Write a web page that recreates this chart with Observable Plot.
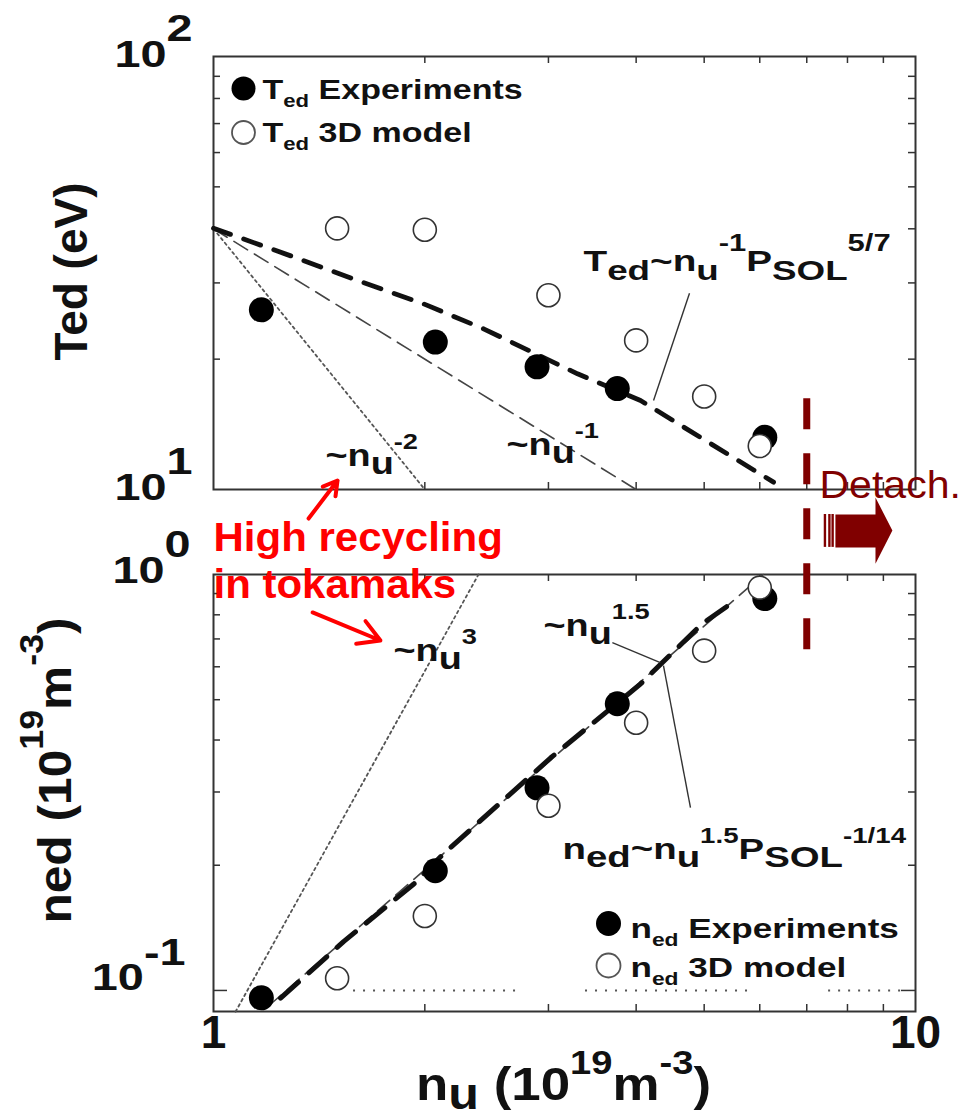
<!DOCTYPE html>
<html>
<head>
<meta charset="utf-8">
<script src="https://cdn.jsdelivr.net/npm/d3@7"></script>
<script src="https://cdn.jsdelivr.net/npm/@observablehq/plot@0.6"></script>
<style>
  body { margin: 0; background: #fff; }
  #chart { position: relative; width: 962px; height: 1117px; overflow: hidden; background: #fff; }
  #chart svg { position: absolute; left: 0; top: 0; }
</style>
</head>
<body>
<div id="chart"></div>
<script>
// ---------------- data ----------------
const xTicks = [2, 3, 4, 5, 6, 7, 8, 9];
const xDecades = [1, 10];
const xDecadeLabels = ["1", "10"];
const tedTicks = [20, 30, 40, 50, 60, 70, 80, 90];
const tedDecades = [10, 100];
const tedDecadeLabels = ["10^{1}", "10^{2}"];
const nedTicks = [0.2, 0.3, 0.4, 0.5, 0.6, 0.7, 0.8, 0.9];
const nedDecades = [0.1, 1];
const nedDecadeLabels = ["10^{-1}", "10^{0}"];

// experiments (filled) and 3D model (open)
const expNu = [1.17, 2.07, 2.89, 3.76, 6.1];
const tedExp = [26.0, 21.9, 19.2, 17.1, 13.2];
const nedExp = [0.096, 0.194, 0.307, 0.489, 0.875];
const modelNu = [1.5, 2, 3, 4, 5, 6];
const tedModel = [40.1, 39.8, 28.1, 22.1, 16.4, 12.6];
const nedModel = [0.107, 0.151, 0.278, 0.44, 0.656, 0.93];

// scaling curves
const tedScalingNu = [1, 1.317, 1.62, 1.985, 2.425, 3.3, 4.058, 4.973, 6.277];
const tedScalingT = [40.1, 34.2, 30.2, 26.9, 23.5, 18.5, 16.05, 13.1, 10.4];
const tedInv1Nu = [1, 4];
const tedInv1T = [40, 10];
const tedInv2Nu = [1, 2];
const tedInv2T = [40, 10];
const nedScalingNu = [1.246, 1.532, 1.927, 2.126, 3.02, 4.06, 4.97, 5.54];
const nedScalingN = [0.0958, 0.131, 0.18, 0.213, 0.362, 0.546, 0.762, 0.866];
const ned15Nu = [1.2, 6.07];
const ned15N = [0.092, 1.0];
const ned3Nu = [1.075, 2.385];
const ned3N = [0.0889, 1.0];
const nedGuideNu1 = [1.583, 3.388, 7.52];
const nedGuideNu2 = [2.737, 5.86, 9.68];
const nedGuideLevel = 0.1;

// annotation geometry (data units)
const detachNu = 7;
const detachT = [16.2, 4.18];
const leadersTop = [{x1: 4.765, y1: 28.4, x2: 4.235, y2: 16.05}];
const leadersBot = [
  {x1: 3.70, y1: 0.686, x2: 4.33, y2: 0.614},
  {x1: 4.375, y1: 0.604, x2: 4.78, y2: 0.275}
];
const redArrows = [
  {x1: 1.366, y1: 8.57, x2: 1.502, y2: 10.49},
  {x1: 1.384, y1: 5.2, x2: 1.729, y2: 4.48}
];
const detachArrowNu = [7.69, 8.77, 8.77, 9.27, 8.77, 8.77, 7.69];
const detachArrowT = [8.756, 8.756, 9.58, 8.04, 6.74, 7.35, 7.35];
const detachBarsNu = [7.43, 7.54, 7.62];
const detachBarsT = [8.756, 7.35];

// ---------------- layout / style ----------------
const W = 962, H = 1117, ML = 213, MR = 47;
const TOP = {mt: 56, mb: H - 489};
const BOT = {mt: 574, mb: H - 1011};
const IW = W - ML - MR;
const IH_TOP = H - TOP.mt - TOP.mb;
const IH_BOT = H - BOT.mt - BOT.mb;
const INK = "#111";
const FRAME = "#333";
const MAROON = "#800000";
const RED = "#ff0000";
const FONT = "'Liberation Sans', Arial, Helvetica, sans-serif";

const textCfg = new Map();

function txt(raw, o) {
  textCfg.set(raw, o);
  const fs = o.fs;
  let dx, dy;
  if (o.rotate) { dx = o.x - ML - 0.32 * fs; dy = o.y - o.mt; }
  else { dx = o.x - ML; dy = o.y - o.mt - 0.32 * fs; }
  return Plot.text([raw], {
    frameAnchor: "top-left", dx, dy, text: d => d,
    textAnchor: o.anchor || "start", lineAnchor: "middle",
    fontSize: fs, fontWeight: o.weight || "bold", fontFamily: FONT,
    fill: o.fill || INK, rotate: o.rotate || 0
  });
}

function ticks(yTicks, ih, majors) {
  return [
    Plot.tickX(xTicks, {x: d => d, insetTop: ih - 7, stroke: FRAME, strokeWidth: 1.5}),
    Plot.tickX(xTicks, {x: d => d, insetBottom: ih - 7, stroke: FRAME, strokeWidth: 1.5}),
    Plot.tickY(yTicks, {y: d => d, insetRight: IW - 7, stroke: FRAME, strokeWidth: 1.5}),
    Plot.tickY(yTicks, {y: d => d, insetLeft: IW - 7, stroke: FRAME, strokeWidth: 1.5}),
    Plot.tickY(majors, {y: d => d, insetRight: IW - 14, stroke: FRAME, strokeWidth: 1.5}),
    Plot.tickY(majors, {y: d => d, insetLeft: IW - 14, stroke: FRAME, strokeWidth: 1.5})
  ];
}

const annoStyle = {sx: 1.22, subScale: 1.0, subShift: 0.27, supScale: 0.72, supShift: 0.52};
const legendStyle = {sx: 1.3, subScale: 0.65, subShift: 0.3};
const tickLabelStyle = {sx: 1.3, supScale: 1.0, supShift: 0.72};
const TL = 36; // tick label font size

// ---------------- bottom panel ----------------
textCfg.set("10^{-1}", tickLabelStyle);
textCfg.set("10^{0}", tickLabelStyle);
const bottomPlot = Plot.plot({
  width: W, height: H,
  marginLeft: ML, marginRight: MR, marginTop: BOT.mt, marginBottom: BOT.mb,
  x: {type: "log", domain: [1, 10], axis: null},
  y: {type: "log", domain: [0.089, 1], axis: null},
  style: {fontFamily: FONT, background: "transparent", overflow: "visible"},
  marks: [
    Plot.ruleY(nedGuideNu1, {x1: d => d, x2: (d, i) => nedGuideNu2[i], y: nedGuideLevel,
      stroke: "#555", strokeWidth: 2, strokeDasharray: "2,8"}),
    ...ticks(nedTicks, IH_BOT, [0.1]),
    Plot.frame({stroke: FRAME, strokeWidth: 2}),
    Plot.line(ned3Nu, {x: ned3Nu, y: ned3N, stroke: "#555", strokeWidth: 1.8, strokeDasharray: "2.5,3.5"}),
    Plot.line(ned15Nu, {x: ned15Nu, y: ned15N, stroke: "#444", strokeWidth: 1.6, strokeDasharray: "16,8"}),
    Plot.line(nedScalingNu, {x: nedScalingNu, y: nedScalingN, stroke: "#111", strokeWidth: 5, strokeDasharray: "24,14"}),
    Plot.link(leadersBot, {x1: "x1", y1: "y1", x2: "x2", y2: "y2", stroke: "#333", strokeWidth: 1.4}),
    Plot.dot(expNu, {x: expNu, y: nedExp, r: 12.5, fill: "#000"}),
    Plot.dot(modelNu, {x: modelNu, y: nedModel, r: 11.5, fill: "#fff", stroke: "#333", strokeWidth: 1.6}),
    // tick labels
    Plot.text([nedDecades[0]], {y: d => d, text: () => nedDecadeLabels[0], frameAnchor: "left", textAnchor: "end",
      dx: -28, dy: 0 - 0.32 * TL, fontSize: TL, fontWeight: "bold", fill: INK}),
    Plot.text([nedDecades[1]], {y: d => d, text: () => nedDecadeLabels[1], frameAnchor: "left", textAnchor: "end",
      dx: -23, dy: 8 - 0.32 * TL, fontSize: TL, fontWeight: "bold", fill: INK}),
    Plot.text(xDecades, {x: d => d, text: (d, i) => xDecadeLabels[i], frameAnchor: "bottom", textAnchor: "middle",
      dy: 51 - 0.32 * 46, fontSize: 46, fontWeight: "bold", fill: INK}),
    // legend
    Plot.dot([0], {frameAnchor: "top-left", dx: 608 - ML, dy: 923 - BOT.mt, r: 12.5, fill: "#000"}),
    Plot.dot([0], {frameAnchor: "top-left", dx: 608 - ML, dy: 965 - BOT.mt, r: 12, fill: "#fff", stroke: "#555", strokeWidth: 1.8}),
    txt("n_{ed} Experiments", {x: 630, y: 937, mt: BOT.mt, fs: 27, ...legendStyle}),
    txt("n_{ed} 3D model", {x: 630, y: 976, mt: BOT.mt, fs: 27, ...legendStyle}),
    // annotations
    txt("~n_{u}^{3}", {x: 393, y: 660, mt: BOT.mt, fs: 31, ...annoStyle}),
    txt("~n_{u}^{1.5}", {x: 543, y: 635, mt: BOT.mt, fs: 31, ...annoStyle}),
    txt("n_{ed}~n_{u}^{1.5}P_{SOL}^{-1/14}", {x: 562, y: 858, mt: BOT.mt, fs: 30, ...annoStyle, sx: 1.28}),
    // axis titles
    txt("n_{u} (10^{19}m^{-3})", {x: 563, y: 1099, mt: BOT.mt, fs: 46, anchor: "middle", sx: 1.15,
      subScale: 0.95, subShift: 0.2, supScale: 0.72, supShift: 0.55}),
    txt("ned (10^{19}m^{-3})", {x: 70, y: 770, mt: BOT.mt, fs: 46, anchor: "middle", rotate: -90, sx: 1.08,
      supScale: 0.72, supShift: 0.6})
  ]
});

// ---------------- top panel ----------------
textCfg.set("10^{1}", tickLabelStyle);
textCfg.set("10^{2}", tickLabelStyle);
const topPlot = Plot.plot({
  width: W, height: H,
  marginLeft: ML, marginRight: MR, marginTop: TOP.mt, marginBottom: TOP.mb,
  x: {type: "log", domain: [1, 10], axis: null},
  y: {type: "log", domain: [10, 100], axis: null},
  style: {fontFamily: FONT, background: "transparent", overflow: "visible"},
  marks: [
    ...ticks(tedTicks, IH_TOP, []),
    Plot.frame({stroke: FRAME, strokeWidth: 2}),
    Plot.line(tedInv2Nu, {x: tedInv2Nu, y: tedInv2T, stroke: "#555", strokeWidth: 1.8, strokeDasharray: "2.5,3.5"}),
    Plot.line(tedInv1Nu, {x: tedInv1Nu, y: tedInv1T, stroke: "#444", strokeWidth: 1.6, strokeDasharray: "16,8"}),
    Plot.line(tedScalingNu, {x: tedScalingNu, y: tedScalingT, stroke: "#111", strokeWidth: 4.8, strokeDasharray: "18,14"}),
    Plot.link(leadersTop, {x1: "x1", y1: "y1", x2: "x2", y2: "y2", stroke: "#333", strokeWidth: 1.4}),
    Plot.dot(expNu, {x: expNu, y: tedExp, r: 12.5, fill: "#000"}),
    Plot.dot(modelNu, {x: modelNu, y: tedModel, r: 11.5, fill: "#fff", stroke: "#333", strokeWidth: 1.6}),
    // tick labels
    Plot.text(tedDecades, {y: d => d, text: (d, i) => tedDecadeLabels[i], frameAnchor: "left", textAnchor: "end",
      dx: -21, dy: 10 - 0.32 * TL, fontSize: TL, fontWeight: "bold", fill: INK}),
    // legend
    Plot.dot([0], {frameAnchor: "top-left", dx: 243 - ML, dy: 88 - TOP.mt, r: 12, fill: "#000"}),
    Plot.dot([0], {frameAnchor: "top-left", dx: 243 - ML, dy: 132 - TOP.mt, r: 11.5, fill: "#fff", stroke: "#555", strokeWidth: 1.8}),
    txt("T_{ed} Experiments", {x: 262, y: 98, mt: TOP.mt, fs: 27, ...legendStyle, sx: 1.26}),
    txt("T_{ed} 3D model", {x: 262, y: 141, mt: TOP.mt, fs: 27, ...legendStyle, sx: 1.26}),
    // annotations
    txt("T_{ed}~n_{u}^{-1}P_{SOL}^{5/7}", {x: 583, y: 270, mt: TOP.mt, fs: 30, ...annoStyle, sx: 1.29,
      subScale: 0.95, subShift: 0.3, supScale: 0.8, supShift: 0.65}),
    txt("~n_{u}^{-2}", {x: 325, y: 465, mt: TOP.mt, fs: 31, ...annoStyle}),
    txt("~n_{u}^{-1}", {x: 506, y: 454, mt: TOP.mt, fs: 31, ...annoStyle}),
    txt("Ted (eV)", {x: 86, y: 271, mt: TOP.mt, fs: 46, anchor: "middle", rotate: -90, sx: 1.0}),
    // detachment marker
    Plot.ruleX([detachNu], {y1: detachT[0], y2: detachT[1], stroke: MAROON, strokeWidth: 7, strokeDasharray: "31,24"}),
    Plot.line(detachArrowNu, {x: detachArrowNu, y: detachArrowT, fill: MAROON, stroke: "none"}),
    Plot.ruleX(detachBarsNu, {x: d => d, y1: detachBarsT[0], y2: detachBarsT[1], stroke: MAROON, strokeWidth: 2.4}),
    txt("Detach.", {x: 819, y: 497, mt: TOP.mt, fs: 38, weight: "normal", fill: MAROON, sx: 1.08}),
    // red annotation
    Plot.arrow(redArrows, {x1: "x1", y1: "y1", x2: "x2", y2: "y2", stroke: RED, strokeWidth: 4, headLength: 14}),
    txt("High recycling", {x: 213, y: 550, mt: TOP.mt, fs: 40, fill: RED, sx: 1.05}),
    txt("in tokamaks", {x: 213, y: 597, mt: TOP.mt, fs: 40, fill: RED, sx: 1.05})
  ]
});

function richify(svg) {
  const NS = "http://www.w3.org/2000/svg";
  svg.querySelectorAll("text").forEach(el => {
    const raw = el.textContent;
    if (!raw) return;
    const cfg = textCfg.get(raw) || {};
    if (/[_^]\{/.test(raw)) {
      const base = parseFloat(getComputedStyle(el).fontSize) || 16;
      const subScale = cfg.subScale ?? 0.65, supScale = cfg.supScale ?? 0.65;
      const subShift = (cfg.subShift ?? 0.25) * base;
      const supShift = -(cfg.supShift ?? 0.5) * base;
      while (el.firstChild) el.removeChild(el.firstChild);
      const re = /([_^])\{([^}]*)\}|([^_^]+)/g;
      let m, cur = 0;
      while ((m = re.exec(raw))) {
        const mode = m[1] === "_" ? "sub" : m[1] === "^" ? "sup" : "n";
        const str = m[1] ? m[2] : m[3];
        const ts = document.createElementNS(NS, "tspan");
        const target = mode === "sub" ? subShift : mode === "sup" ? supShift : 0;
        if (Math.abs(target - cur) > 0.01) ts.setAttribute("dy", (target - cur).toFixed(2));
        cur = target;
        if (mode !== "n") ts.setAttribute("font-size", (base * (mode === "sub" ? subScale : supScale)).toFixed(2));
        ts.textContent = str;
        el.appendChild(ts);
      }
    }
    if (cfg.sx && cfg.sx !== 1) {
      const ax = parseFloat(el.getAttribute("x")) || 0;
      const t = el.getAttribute("transform") || "";
      el.setAttribute("transform", `${t} translate(${ax},0) scale(${cfg.sx},1) translate(${-ax},0)`);
    }
  });
}

const chart = document.getElementById("chart");
for (const svg of [bottomPlot, topPlot]) {
  svg.style.background = "transparent";
  svg.style.maxWidth = "none";
  svg.style.overflow = "visible";
  chart.appendChild(svg);
  richify(svg);
}
</script>
</body>
</html>
